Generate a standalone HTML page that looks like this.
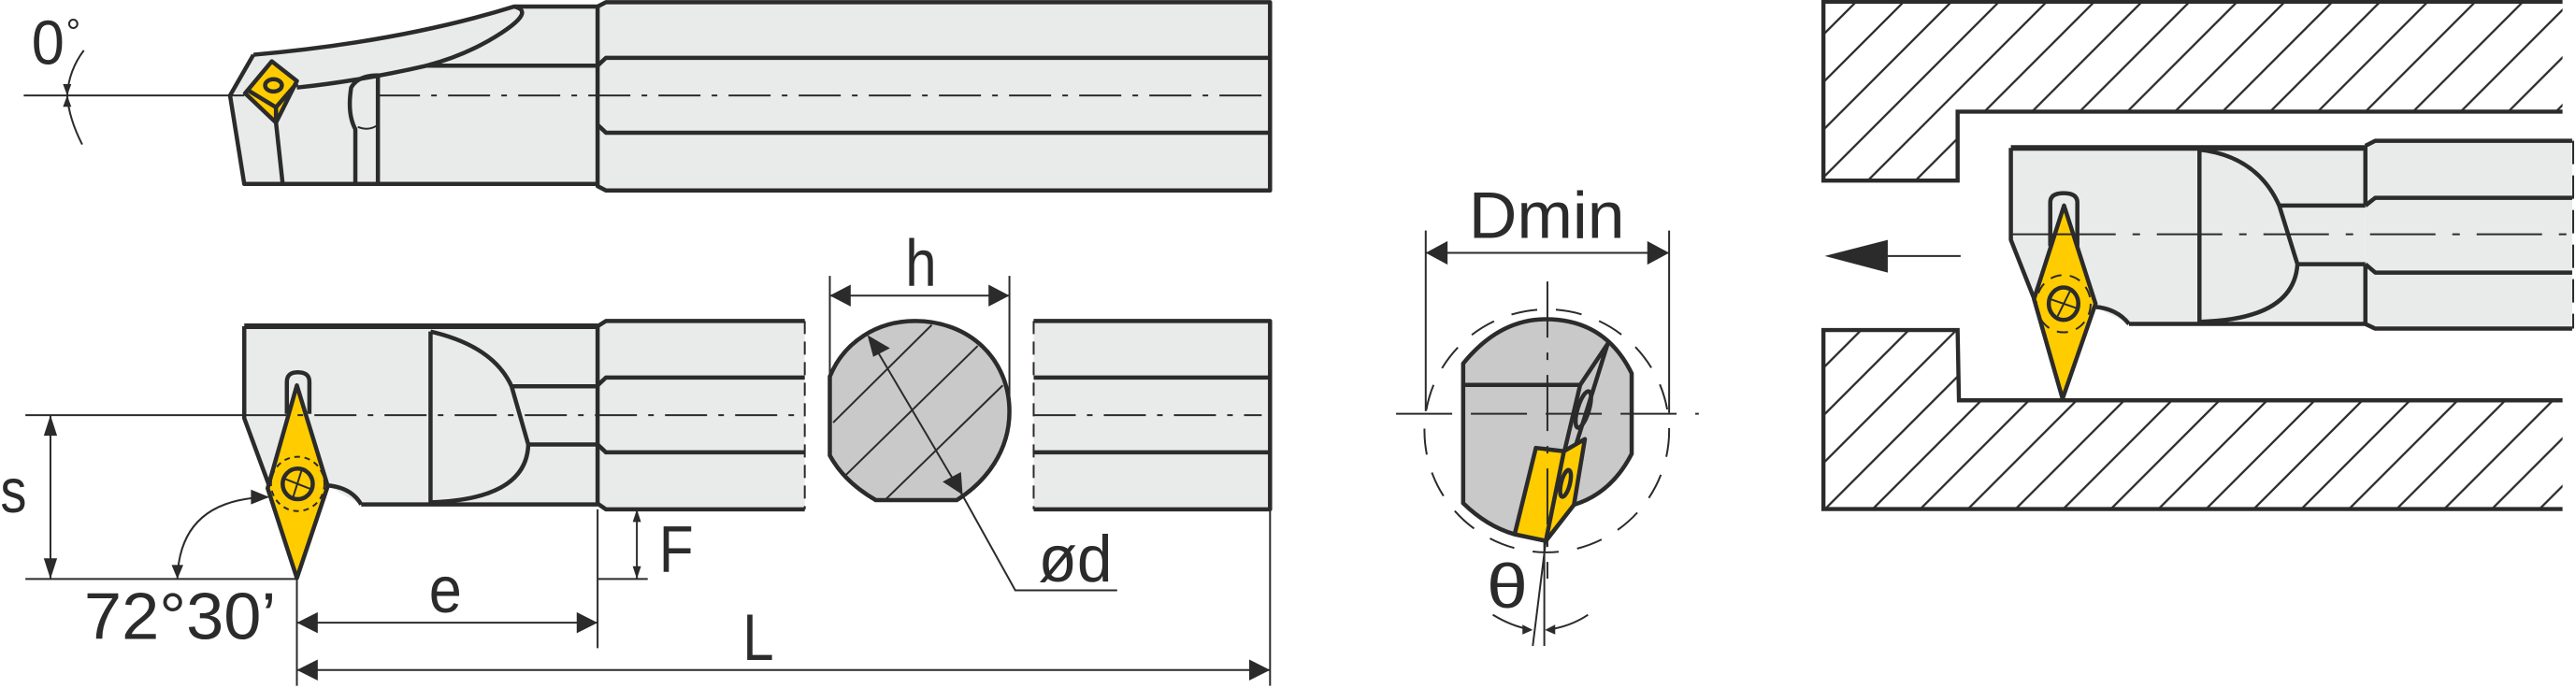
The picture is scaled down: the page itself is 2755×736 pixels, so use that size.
<!DOCTYPE html>
<html><head><meta charset="utf-8"><style>
html,body{margin:0;padding:0;background:#fff;}
svg{display:block;}
.k{stroke:#2b2b2b;stroke-width:4.5;fill:none;vector-effect:non-scaling-stroke;stroke-linejoin:round;}
.t{stroke:#2b2b2b;stroke-width:2;fill:none;vector-effect:non-scaling-stroke;}
.b{fill:#e9ebea;stroke:none;}
.y{fill:#ffcc00;stroke:#2b2b2b;stroke-width:4.5;vector-effect:non-scaling-stroke;stroke-linejoin:round;}
.g{fill:#c8c9c8;stroke:#2b2b2b;stroke-width:4.5;vector-effect:non-scaling-stroke;}
.a{fill:#2b2b2b;stroke:none;}
text{font-family:"Liberation Sans",sans-serif;fill:#2b2b2b;}
</style></head><body>
<svg width="2755" height="736" viewBox="0 0 1568 419" xmlns="http://www.w3.org/2000/svg">
<defs>
<pattern id="h" patternUnits="userSpaceOnUse" width="29" height="29">
<path d="M-2,31 L31,-2 M-5,5 L5,-5 M24,34 L34,24" stroke="#2b2b2b" stroke-width="1.3"/>
</pattern>
</defs>

<!-- LEFT PART (zoom1 coords) -->
<g transform="scale(0.5086,0.2667)">
<path class="b" d="M715,15 L725,5 H1520 V435 H725 L715,425 Z"/>
<path class="b" d="M303,125 Q480,95 615,15 H715 V420 H292 L275,218 Z"/>
<path class="k" d="M715,15 L725,5 H1520 V435 H725 L715,425 Z"/>
<path class="k" d="M303,125 Q480,95 615,15 H715"/>
<path class="k" d="M615,15 Q640,25 600,75 Q560,125 510,150 H715"/>
<path class="k" d="M355,200 Q430,185 510,150"/>
<path class="k" d="M303,125 L275,218 L292,420 H715"/>
<path class="k" d="M715,150 L725,132 H1520"/>
<path class="k" d="M715,285 L725,303 H1520"/>
<path class="k" d="M425,420 V295 Q415,260 420,200 Q428,172 452,172 V420"/>
<path class="t" d="M428,290 Q442,300 452,285"/>
<polygon class="y" points="293,213 325,140 355,185 330,280"/>
<path class="k" d="M298,208 L330,245 L355,190 M330,245 V280"/>
<ellipse class="k" cx="327" cy="195" rx="10" ry="14"/>
<path class="k" d="M330,280 L338,420"/>
<path class="t" d="M28,218 H292"/>
<path class="t" d="M452,218 H1520" stroke-dasharray="45 12 6 12"/>
<path class="t" d="M100,115 Q82,160 80,218 M80,218 Q82,270 98,330"/>
<polygon class="a" points="80,218 75,192 85,192"/>
<polygon class="a" points="80,218 75,244 85,244"/>

<path class="b" d="M715,745 L725,733 H963 V1163 H725 L715,1150 Z"/>
<rect class="b" x="1237" y="733" width="283" height="430"/>
<path class="b" d="M292,745 H715 V1152 H432 L390,1108 L320,1115 L292,955 Z"/>
<path class="k" d="M715,745 L725,733 H963 M715,880 L725,862 H963 M715,1015 L725,1033 H963 M715,1150 L725,1163 H963"/>
<path class="t" d="M963,733 V1163 M1237,733 V1163" stroke-dasharray="14 8"/>
<path class="k" d="M1237,733 H1520 V1163 H1237 M1237,862 H1520 M1237,1033 H1520"/>
<path class="k" d="M292,745 H715" style="stroke-width:6"/>
<path class="k" d="M292,745 V955 L322,1110 M715,745 V1152 M432,1152 H715 M390,1108 Q420,1112 432,1152 M515,757 V1147"/>
<path class="k" d="M515,757 Q590,790 612,882 L632,1015 Q630,1140 515,1147 M612,882 H715 M632,1015 H715"/>
<path class="k" d="M343,945 V872 Q343,850 356,850 Q370,850 370,872 V945" fill="#e9ebea"/>
<polygon class="y" points="355,880 392,1110 355,1320 320,1115"/>
<ellipse class="t" cx="356" cy="1105" rx="32" ry="62" stroke-dasharray="6 5"/>
<ellipse class="k" cx="356" cy="1105" rx="18" ry="35"/>
<path class="t" d="M340,1093 L372,1117 M361,1072 L350,1138"/>
<path class="t" d="M30,948 H292"/>
<path class="t" d="M292,948 H955 M1237,948 H1510" stroke-dasharray="45 12 6 12"/>
<path class="t" d="M60,948 V1322 M30,1322 H355"/>
<polygon class="a" points="60,948 52,995 68,995"/>
<polygon class="a" points="60,1322 52,1275 68,1275"/>
<path class="t" d="M212,1320 Q215,1140 320,1135"/>
<polygon class="a" points="212,1322 205,1290 219,1290"/>
<polygon class="a" points="322,1135 300,1118 300,1152"/>
<path class="t" d="M762,1163 V1322 M715,1322 H775 M715,1163 V1480"/>
<polygon class="a" points="762,1163 757,1192 767,1192"/>
<polygon class="a" points="762,1322 757,1293 767,1293"/>
<path class="t" d="M355,1422 H715"/>
<polygon class="a" points="355,1422 380,1398 380,1446"/>
<polygon class="a" points="715,1422 690,1398 690,1446"/>
<path class="t" d="M355,1530 H1520 M355,1322 V1566 M1520,1163 V1566"/>
<polygon class="a" points="355,1530 380,1506 380,1554"/>
<polygon class="a" points="1520,1530 1495,1506 1495,1554"/>
<path class="g" d="M1048,1142 L1145,1142 C1180,1100 1208,1030 1208,940 C1208,820 1160,733 1095,733 C1050,733 1010,780 993,860 L993,1040 Q1010,1100 1048,1142 Z"/>
<path class="t" d="M997,965 L1115,742 M1012,1085 L1170,790 M1060,1140 L1200,880"/>
<path class="t" d="M1040,770 L1150,1125 L1215,1348 H1337"/>
<polygon class="a" points="1038,765 1065,795 1045,815"/>
<polygon class="a" points="1152,1130 1128,1100 1150,1078"/>
<path class="t" d="M993,630 V860 M1208,630 V940 M993,675 H1208"/>
<polygon class="a" points="993,675 1018,650 1018,700"/>
<polygon class="a" points="1208,675 1183,650 1183,700"/>
</g>

<!-- MIDDLE -->
<g transform="translate(825.1,102.4) scale(0.19,0.2)">
<path class="t" d="M225,190 V740 M1005,190 V745 M225,258 H1005"/>
<polygon class="a" points="225,258 295,222 295,294"/>
<polygon class="a" points="1005,258 935,222 935,294"/>
<ellipse class="t" cx="613" cy="800" rx="392" ry="370" stroke-dasharray="28 20"/>
<path class="g" d="M345,1020 V595 Q460,460 610,460 Q800,460 885,625 V870 Q820,990 700,1025 L610,1135 L510,1115 Q420,1090 345,1020 Z"/>
<path class="k" d="M345,660 H720 L808,535 L610,1135 M720,660 L670,860"/>
<ellipse class="k" cx="730" cy="735" rx="18" ry="58" transform="rotate(18 730 735)"/>
<polygon class="y" points="578,852 668,862 735,825 700,1025 610,1135 510,1115"/>
<path class="k" d="M668,862 L610,1135"/>
<ellipse class="k" cx="673" cy="960" rx="14" ry="42" transform="rotate(15 673 960)"/>
<path class="t" d="M130,748 H1100" stroke-dasharray="60 20"/>
<path class="t" d="M615,345 V1250" stroke-dasharray="60 16 8 16"/>
<path class="t" d="M610,1135 L568,1455 M605,1140 V1455"/>
<path class="t" d="M440,1360 Q500,1395 560,1405 M745,1360 Q690,1395 620,1405"/>
<polygon class="a" points="568,1406 535,1390 535,1420"/>
<polygon class="a" points="607,1406 640,1390 640,1420"/>
</g>

<!-- RIGHT hatched -->
<path d="M1110,1 H1566 V68 H1191.7 V110 H1110 Z" fill="url(#h)" stroke="#2b2b2b" stroke-width="2.5"/>
<path d="M1110,201 H1191.7 L1192.5,243.8 H1566 V310 H1110 Z" fill="url(#h)" stroke="#2b2b2b" stroke-width="2.5"/>
<rect x="1560" y="0" width="8" height="419" fill="#fff"/>

<g transform="translate(1098.2,0) scale(0.2998,0.1897)">
<path class="b" d="M1140,468 L1160,452 H1560 V1055 H1160 L1140,1040 Z"/>
<path class="b" d="M420,475 H1140 V1040 H660 L590,985 L467,960 L420,770 Z"/>
<path class="k" d="M1140,468 L1160,452 H1560 M1140,468 V660 M1140,660 L1160,635 H1560 M1140,848 L1160,875 H1560 M1140,848 V1040 L1160,1055 H1560"/>
<path class="t" d="M1562,452 V1055" stroke-dasharray="25 12"/>
<path class="k" d="M420,475 H1140" style="stroke-width:6"/>
<path class="k" d="M420,475 V770 L470,970 M803,483 V1033 M800,480 Q920,500 965,660 H1140 M965,660 L1002,848 H1140 M1002,848 Q995,1025 805,1033 M660,1040 H1140 M590,985 Q635,990 660,1040"/>
<path class="k" d="M500,790 V650 Q500,620 527,620 Q555,620 555,650 V790" fill="#e9ebea"/>
<polygon class="y" points="528,660 592,975 525,1280 467,960"/>
<ellipse class="t" cx="527" cy="975" rx="55" ry="92" stroke-dasharray="12 9"/>
<ellipse class="k" cx="527" cy="975" rx="30" ry="52"/>
<path class="t" d="M500,960 L555,990 M540,935 L515,1015"/>
<path class="t" d="M420,752 H500"/>
<path class="t" d="M500,752 H1560" stroke-dasharray="70 18 8 18"/>
<polygon class="a" points="42,822 170,770 170,875"/>
<path class="t" d="M170,822 H318"/>
</g>

<text x="19" y="39" font-size="38" textLength="20" lengthAdjust="spacingAndGlyphs">0</text>
<text x="40" y="27" font-size="22">°</text>
<text x="0" y="312" font-size="38" textLength="16" lengthAdjust="spacingAndGlyphs">s</text>
<text x="51" y="389" font-size="40" textLength="117" lengthAdjust="spacingAndGlyphs">72°30’</text>
<text x="261" y="373" font-size="40" textLength="20" lengthAdjust="spacingAndGlyphs">e</text>
<text x="401" y="348" font-size="40" textLength="21" lengthAdjust="spacingAndGlyphs">F</text>
<text x="452" y="402" font-size="40" textLength="19" lengthAdjust="spacingAndGlyphs">L</text>
<text x="551" y="174" font-size="40" textLength="19" lengthAdjust="spacingAndGlyphs">h</text>
<text x="632" y="354" font-size="40" textLength="45" lengthAdjust="spacingAndGlyphs">ød</text>
<text x="894" y="145" font-size="40" textLength="95" lengthAdjust="spacingAndGlyphs">Dmin</text>
<text x="905" y="370" font-size="38" textLength="25" lengthAdjust="spacingAndGlyphs">θ</text>
</svg>
</body></html>
